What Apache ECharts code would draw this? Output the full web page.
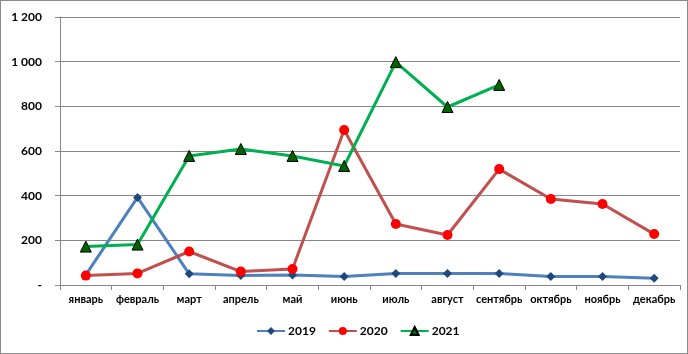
<!DOCTYPE html>
<html>
<head>
<meta charset="utf-8">
<script src="https://cdn.jsdelivr.net/npm/echarts@6/dist/echarts.min.js"></script>
<style>
  html, body { margin: 0; padding: 0; background: #fff; }
  #chart { width: 686px; height: 352px; border: 1px solid #8c8c8c; }
</style>
</head>
<body>
<div id="chart"></div>
<script>
{
    const months = ['январь', 'февраль', 'март', 'апрель', 'май', 'июнь', 'июль', 'август', 'сентябрь', 'октябрь', 'ноябрь', 'декабрь'];
    const s2019 = [45, 392, 50, 42, 45, 38, 52, 52, 52, 38, 38, 30];
    const s2020 = [42, 52, 150, 60, 72, 694, 273, 224, 519, 385, 363, 228];
    const s2021 = [172, 181, 578, 609, 578, 533, 998, 797, 896];

    var dom = document.getElementById('chart');
    var myChart = echarts.init(dom);
    const font = 'Lato, "Open Sans", sans-serif';

    const option = {
        animation: false,
        grid: { left: 59, right: 7, top: 16, bottom: 68 },
        legend: {
            bottom: 11,
            left: 250,
            itemWidth: 28,
            itemHeight: 10,
            itemGap: 12,
            textStyle: { fontFamily: font, fontWeight: 'bold', fontSize: 12, color: '#000', padding: [0, 0, 0, -2] },
            data: ['2019', '2020', '2021']
        },
        xAxis: {
            type: 'category',
            data: months,
            boundaryGap: true,
            axisLine: { lineStyle: { color: '#868686' } },
            axisTick: { show: true, length: 5, interval: 0, lineStyle: { color: '#868686' } },
            axisLabel: { interval: 0, fontFamily: font, fontWeight: 'bold', fontSize: 11, color: '#000', margin: 9 }
        },
        yAxis: {
            type: 'value',
            min: 0,
            max: 1200,
            interval: 200,
            axisLine: { show: true, lineStyle: { color: '#868686' } },
            axisTick: { show: true, length: 5, lineStyle: { color: '#868686' } },
            splitLine: { lineStyle: { color: '#868686' } },
            axisLabel: {
                fontFamily: font, fontWeight: 'bold', fontSize: 12, color: '#000', margin: 18,
                formatter: v => v === 0 ? '-' : String(v).replace(/\B(?=(\d{3})+(?!\d))/g, ' ')
            }
        },
        series: [
            {
                name: '2019', type: 'line', data: s2019,
                symbol: 'diamond', symbolSize: 9,
                lineStyle: { color: '#4F81BD', width: 3 },
                itemStyle: { color: '#1F497D' }
            },
            {
                name: '2020', type: 'line', data: s2020,
                symbol: 'circle', symbolSize: 10,
                lineStyle: { color: '#C0504D', width: 3 },
                itemStyle: { color: '#FF0000' }
            },
            {
                name: '2021', type: 'line', data: s2021,
                symbol: 'triangle', symbolSize: 11,
                lineStyle: { color: '#00B050', width: 3 },
                itemStyle: { color: '#006400', borderColor: '#000', borderWidth: 1 }
            }
        ]
    };
    myChart.setOption(option);
}
</script>
</body>
</html>
